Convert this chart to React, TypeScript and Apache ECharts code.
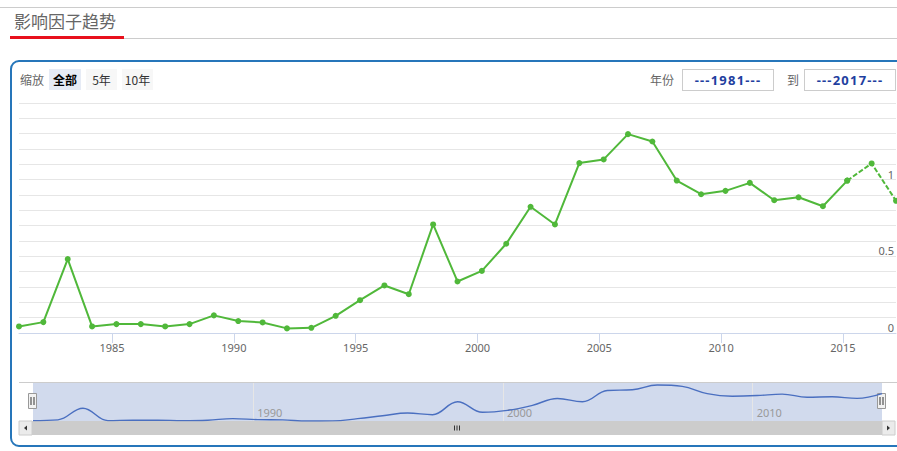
import React, { useEffect, useRef } from 'react';
import * as echarts from 'echarts';

// ---- data ----
const YEARS = [
  1981, 1982, 1983, 1984, 1985, 1986, 1987, 1988, 1989, 1990,
  1991, 1992, 1993, 1994, 1995, 1996, 1997, 1998, 1999, 2000,
  2001, 2002, 2003, 2004, 2005, 2006, 2007, 2008, 2009, 2010,
  2011, 2012, 2013, 2014, 2015, 2016, 2017,
];
const IMPACT = [
  0.043, 0.071, 0.482, 0.043, 0.058, 0.058, 0.043, 0.058, 0.115, 0.078,
  0.069, 0.03, 0.034, 0.112, 0.214, 0.31, 0.253, 0.708, 0.336, 0.405,
  0.582, 0.823, 0.708, 1.108, 1.132, 1.297, 1.249, 0.994, 0.905, 0.927,
  0.979, 0.866, 0.885, 0.827, 0.994, 1.106, 0.862,
];
const LAST_ACTUAL_YEAR = 2015; // after this the line is dashed
const X_TICK_YEARS = [1985, 1990, 1995, 2000, 2005, 2010, 2015];
const NAV_TICK_YEARS = [1990, 2000, 2010];
const Y_LABELS = [0, 0.5, 1];
const TITLE = '影响因子趋势';
const ZOOM_LABEL = '缩放';
const ZOOM_BUTTONS = ['全部', '5年', '10年'];
const FROM_LABEL = '年份';
const TO_LABEL = '到';
const FROM_YEAR = '1981';
const TO_YEAR = '2017';

// ticks sit at 1 January; the points sit a little later in the year
const TICK_SHIFT = 0.18;

const GREEN = '#50b83a';
const FONT = '"Noto Sans", "Noto Sans CJK SC", sans-serif';
const CJK = '"Noto Sans CJK SC", "Noto Sans", sans-serif';

export default function App() {
  const ref = useRef<HTMLDivElement>(null);

  useEffect(() => {
    if (!ref.current) return;
    const chart = echarts.init(ref.current, undefined, { renderer: 'svg' });

    const pairs = YEARS.map((y, i) => [y, IMPACT[i]]);
    const actual = pairs.filter((p) => p[0] <= LAST_ACTUAL_YEAR);
    const projected = pairs.filter((p) => p[0] >= LAST_ACTUAL_YEAR);
    const xTicks = X_TICK_YEARS.map((y) => y - TICK_SHIFT);
    const navTicks = NAV_TICK_YEARS.map((y) => y - TICK_SHIFT);

    const handle = (cx: number) => ({
      type: 'group',
      children: [
        {
          type: 'rect',
          shape: { x: cx - 4, y: 393.5, width: 8, height: 15 },
          style: { fill: '#f2f2f2', stroke: '#999999', lineWidth: 1 },
        },
        {
          type: 'line',
          shape: { x1: cx - 1.5, y1: 397, x2: cx - 1.5, y2: 405 },
          style: { stroke: '#333', lineWidth: 1 },
        },
        {
          type: 'line',
          shape: { x1: cx + 1.5, y1: 397, x2: cx + 1.5, y2: 405 },
          style: { stroke: '#333', lineWidth: 1 },
        },
      ],
    });

    chart.setOption({
      animation: false,
      textStyle: { fontFamily: FONT },
      grid: [
        { left: 19, right: 1, top: 103, height: 230 },
        {
          left: 33, right: 15, top: 383, height: 38,
          show: true, backgroundColor: 'rgba(102,133,194,0.3)', borderWidth: 0,
        },
      ],
      xAxis: [
        {
          gridIndex: 0,
          type: 'value',
          min: YEARS[0],
          max: YEARS[YEARS.length - 1],
          axisLine: { lineStyle: { color: '#ccd6eb' } },
          axisTick: { customValues: xTicks, length: 10, lineStyle: { color: '#ccd6eb' } },
          axisLabel: {
            customValues: xTicks,
            formatter: (v: number) => String(Math.round(v)),
            color: '#666',
            fontSize: 11,
            margin: 9,
          },
          splitLine: { show: false },
        },
        {
          gridIndex: 1,
          type: 'value',
          min: YEARS[0],
          max: LAST_ACTUAL_YEAR,
          axisLine: { show: false },
          axisTick: { show: false, customValues: navTicks },
          axisLabel: {
            customValues: navTicks,
            inside: true,
            formatter: (v: number) => String(Math.round(v)),
            color: '#999',
            fontSize: 11,
            align: 'left',
            verticalAlign: 'bottom',
            padding: [0, 0, 0, 4],
            margin: 3,
          },
          splitLine: { show: true, lineStyle: { color: '#e6e6e6' } },
        },
      ],
      yAxis: [
        {
          gridIndex: 0,
          type: 'value',
          position: 'right',
          min: 0,
          max: 1.5,
          interval: 0.1,
          axisLine: { show: false },
          axisTick: { show: false },
          splitLine: { lineStyle: { color: '#e6e6e6' } },
          axisLabel: {
            inside: true,
            margin: 2,
            verticalAlign: 'bottom',
            color: '#666',
            fontSize: 11,
            formatter: (v: number) => {
              const r = Math.round(v * 10) / 10;
              return Y_LABELS.some((l) => Math.abs(l - r) < 1e-6) ? String(r) : '';
            },
          },
        },
        {
          gridIndex: 1,
          type: 'value',
          min: (e: { min: number }) => e.min,
          max: 1.37,
          show: false,
          splitLine: { show: false },
        },
      ],
      series: [
        {
          type: 'line',
          xAxisIndex: 0,
          yAxisIndex: 0,
          data: actual,
          symbol: 'circle',
          symbolSize: 6,
          itemStyle: { color: GREEN },
          lineStyle: { color: GREEN, width: 2 },
          z: 3,
        },
        {
          type: 'line',
          xAxisIndex: 0,
          yAxisIndex: 0,
          data: projected,
          symbol: 'circle',
          symbolSize: 6,
          itemStyle: { color: GREEN },
          lineStyle: { color: GREEN, width: 2, type: [5, 2] },
          z: 3,
        },
        {
          type: 'line',
          xAxisIndex: 1,
          yAxisIndex: 1,
          data: actual,
          smooth: 0.4,
          showSymbol: false,
          lineStyle: { color: '#4a6fc0', width: 1.4 },
          silent: true,
        },
      ],
      graphic: [
        // navigator outline
        {
          type: 'line',
          shape: { x1: 19, y1: 382.5, x2: 897, y2: 382.5 },
          style: { stroke: '#cccccc', lineWidth: 1 },
        },
        // scrollbar
        {
          type: 'rect',
          shape: { x: 19, y: 421, width: 13, height: 14 },
          style: { fill: '#ebebeb', stroke: '#cccccc', lineWidth: 1 },
        },
        {
          type: 'rect',
          shape: { x: 32, y: 421, width: 850, height: 14 },
          style: { fill: '#cccccc' },
        },
        {
          type: 'rect',
          shape: { x: 882, y: 421, width: 13, height: 14 },
          style: { fill: '#ebebeb', stroke: '#cccccc', lineWidth: 1 },
        },
        {
          type: 'polygon',
          shape: { points: [[24, 428], [27, 425.5], [27, 430.5]] },
          style: { fill: '#333' },
        },
        {
          type: 'polygon',
          shape: { points: [[890, 428], [887, 425.5], [887, 430.5]] },
          style: { fill: '#333' },
        },
        ...[-2.5, 0, 2.5].map((dx) => ({
          type: 'line',
          shape: { x1: 457 + dx, y1: 425.5, x2: 457 + dx, y2: 430.5 },
          style: { stroke: '#333', lineWidth: 1 },
        })),
        handle(32.5),
        handle(881.5),
      ],
    });

    return () => chart.dispose();
  }, []);

  const btn = (label: string, i: number) => {
    const lefts = [49, 86, 122];
    const widths = [32, 31, 31];
    const selected = i === 0;
    return (
      <div
        key={label}
        style={{
          position: 'absolute',
          left: lefts[i],
          top: 69,
          width: widths[i],
          height: 21,
          lineHeight: '21px',
          textAlign: 'center',
          background: selected ? '#e6ebf5' : '#f7f7f7',
          color: selected ? '#000' : '#333',
          fontWeight: selected ? 'bold' : 'normal',
          fontSize: 12,
          fontFamily: CJK,
        }}
      >
        {label}
      </div>
    );
  };

  const inputBox = (left: number, text: string) => (
    <div
      style={{
        position: 'absolute',
        left,
        top: 69,
        width: 90,
        height: 20,
        border: '1px solid #cccccc',
        lineHeight: '20px',
        textAlign: 'center',
        color: '#1f3f9f',
        fontWeight: 'bold',
        fontSize: 13,
        letterSpacing: 1.2,
        fontFamily: FONT,
        background: '#fff',
      }}
    >
      {`---${text}---`}
    </div>
  );

  return (
    <div
      style={{
        position: 'fixed',
        left: 0,
        top: 0,
        width: 897,
        height: 451,
        overflow: 'hidden',
        background: '#fff',
      }}
    >
      <div style={{ position: 'absolute', left: 0, top: 7, width: 897, height: 1, background: '#cccccc' }} />
      <div
        style={{
          position: 'absolute',
          left: 14,
          top: 9,
          fontSize: 17,
          lineHeight: '23px',
          color: '#666',
          fontFamily: CJK,
        }}
      >
        {TITLE}
      </div>
      <div style={{ position: 'absolute', left: 124, top: 38, width: 773, height: 1, background: '#cccccc' }} />
      <div style={{ position: 'absolute', left: 10, top: 36, width: 114, height: 3, background: '#e8101c' }} />

      <div
        style={{
          position: 'absolute',
          left: 10,
          top: 60,
          width: 910,
          height: 383,
          border: '2px solid #2676ba',
          borderRadius: 9,
        }}
      />

      <div
        style={{
          position: 'absolute',
          left: 20,
          top: 69,
          lineHeight: '21px',
          fontSize: 12,
          color: '#666',
          fontFamily: CJK,
        }}
      >
        {ZOOM_LABEL}
      </div>
      {ZOOM_BUTTONS.map(btn)}

      <div
        style={{
          position: 'absolute',
          left: 650,
          top: 69,
          lineHeight: '22px',
          fontSize: 12,
          color: '#666',
          fontFamily: CJK,
        }}
      >
        {FROM_LABEL}
      </div>
      {inputBox(682, FROM_YEAR)}
      <div
        style={{
          position: 'absolute',
          left: 787,
          top: 69,
          lineHeight: '22px',
          fontSize: 12,
          color: '#666',
          fontFamily: CJK,
        }}
      >
        {TO_LABEL}
      </div>
      {inputBox(804, TO_YEAR)}

      <div ref={ref} style={{ position: 'absolute', left: 0, top: 0, width: 897, height: 451 }} />
    </div>
  );
}
